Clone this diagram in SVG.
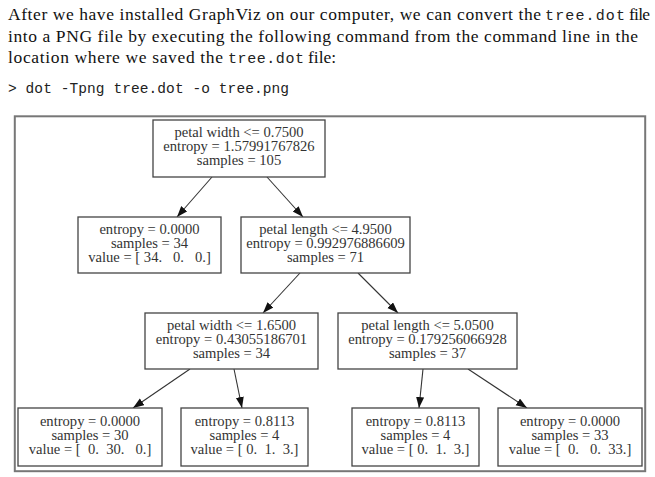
<svg xmlns="http://www.w3.org/2000/svg" width="655" height="477" viewBox="0 0 655 477">
<style>
.hdr{font-family:"Liberation Serif","Times New Roman",serif;font-size:17.5px;fill:#111}
.mono{font-family:"Liberation Mono","Courier New",monospace;font-size:15px;fill:#222}
.cmd{font-family:"Liberation Mono","Courier New",monospace;font-size:14.5px;fill:#222}
.box{fill:#fff;stroke:#444;stroke-width:1.3}
.t{font-family:"Liberation Serif","Times New Roman",serif;font-size:14.6px;fill:#333;text-anchor:middle;white-space:pre}
.edge{stroke:#333;stroke-width:1.1;fill:none}
</style>
<defs>
<marker id="arr" markerUnits="userSpaceOnUse" markerWidth="12" markerHeight="10" refX="11" refY="4" orient="auto">
<path d="M0,0 L11,4 L0,8 Z" fill="#111"/>
</marker>
</defs>
<rect width="655" height="477" fill="#fff"/>
<g id="header">
<text class="hdr" x="8" y="20" textLength="533">After we have installed GraphViz on our computer, we can convert the</text>
<text class="mono" x="545" y="20" textLength="80">tree.dot</text>
<text class="hdr" x="629" y="20" textLength="21">file</text>
<text class="hdr" x="8" y="42" textLength="630">into a PNG file by executing the following command from the command line in the</text>
<text class="hdr" x="8" y="63" textLength="215">location where we saved the</text>
<text class="mono" x="228" y="63" textLength="76">tree.dot</text>
<text class="hdr" x="308" y="63">file:</text>
<text class="cmd" x="8" y="93" textLength="281">&gt; dot -Tpng tree.dot -o tree.png</text>
</g>
<rect id="frame" x="14.8" y="116.3" width="630.4" height="354.9" fill="none" stroke="#777" stroke-width="2"/>
<g id="connectors">
<line class="edge" x1="212" y1="177" x2="177" y2="217" marker-end="url(#arr)"/>
<line class="edge" x1="267" y1="177" x2="303" y2="217" marker-end="url(#arr)"/>
<line class="edge" x1="300" y1="273" x2="263" y2="313" marker-end="url(#arr)"/>
<line class="edge" x1="358" y1="273" x2="398" y2="313" marker-end="url(#arr)"/>
<line class="edge" x1="190" y1="369" x2="133" y2="408" marker-end="url(#arr)"/>
<line class="edge" x1="234" y1="369" x2="242" y2="408" marker-end="url(#arr)"/>
<line class="edge" x1="423" y1="369" x2="419" y2="408" marker-end="url(#arr)"/>
<line class="edge" x1="468" y1="369" x2="527" y2="408" marker-end="url(#arr)"/>
</g>
<g id="n0">
<rect class="box" x="153" y="120" width="172" height="57"/>
<text class="t" x="239" y="137">petal width &lt;= 0.7500</text>
<text class="t" x="239" y="151">entropy = 1.57991767826</text>
<text class="t" x="239" y="165">samples = 105</text>
</g>
<g id="n1">
<rect class="box" x="78" y="217" width="143" height="56"/>
<text class="t" x="149.5" y="234">entropy = 0.0000</text>
<text class="t" x="149.5" y="248">samples = 34</text>
<text class="t" x="149.5" y="262">value = [ 34.   0.   0.]</text>
</g>
<g id="n2">
<rect class="box" x="241" y="217" width="169" height="56"/>
<text class="t" x="325.5" y="234">petal length &lt;= 4.9500</text>
<text class="t" x="325.5" y="248">entropy = 0.992976886609</text>
<text class="t" x="325.5" y="262">samples = 71</text>
</g>
<g id="n3">
<rect class="box" x="145" y="313" width="173" height="56"/>
<text class="t" x="231.5" y="330">petal width &lt;= 1.6500</text>
<text class="t" x="231.5" y="344">entropy = 0.43055186701</text>
<text class="t" x="231.5" y="358">samples = 34</text>
</g>
<g id="n4">
<rect class="box" x="338" y="313" width="179" height="56"/>
<text class="t" x="427.5" y="330">petal length &lt;= 5.0500</text>
<text class="t" x="427.5" y="344">entropy = 0.179256066928</text>
<text class="t" x="427.5" y="358">samples = 37</text>
</g>
<g id="n5">
<rect class="box" x="18" y="408" width="144" height="58"/>
<text class="t" x="90" y="426">entropy = 0.0000</text>
<text class="t" x="90" y="440">samples = 30</text>
<text class="t" x="90" y="454">value = [  0.  30.   0.]</text>
</g>
<g id="n6">
<rect class="box" x="181" y="408" width="127" height="58"/>
<text class="t" x="244.5" y="426">entropy = 0.8113</text>
<text class="t" x="244.5" y="440">samples = 4</text>
<text class="t" x="244.5" y="454">value = [ 0.  1.  3.]</text>
</g>
<g id="n7">
<rect class="box" x="352" y="408" width="127" height="58"/>
<text class="t" x="415.5" y="426">entropy = 0.8113</text>
<text class="t" x="415.5" y="440">samples = 4</text>
<text class="t" x="415.5" y="454">value = [ 0.  1.  3.]</text>
</g>
<g id="n8">
<rect class="box" x="498" y="408" width="144" height="58"/>
<text class="t" x="570" y="426">entropy = 0.0000</text>
<text class="t" x="570" y="440">samples = 33</text>
<text class="t" x="570" y="454">value = [  0.   0.  33.]</text>
</g>
</svg>
